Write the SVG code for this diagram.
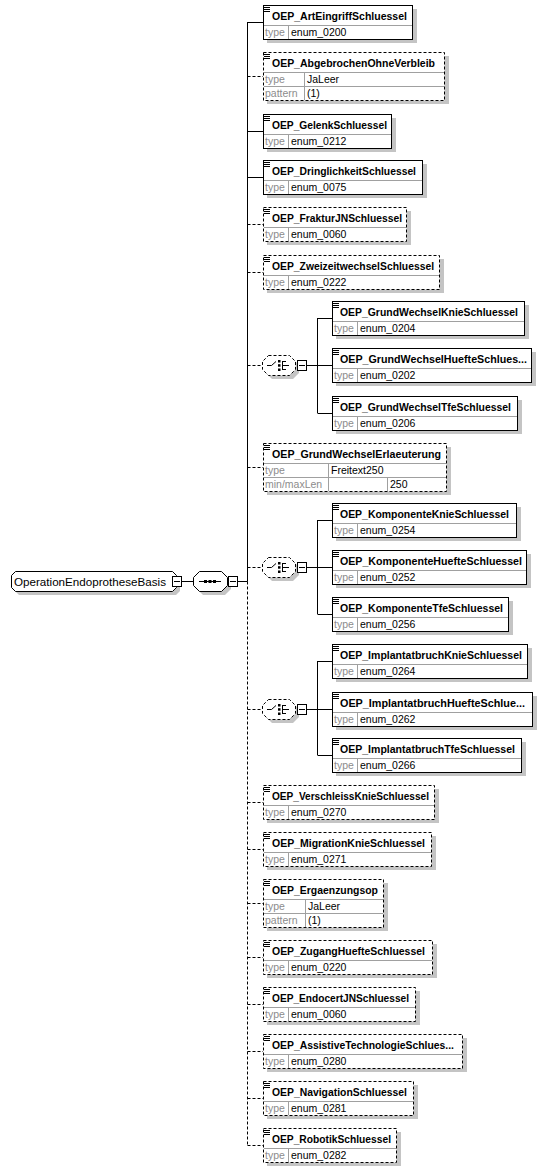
<svg xmlns="http://www.w3.org/2000/svg" width="547" height="1172" viewBox="0 0 547 1172">
<style>
.box{fill:#fff;stroke:#000;stroke-width:1}
.opt{stroke-dasharray:3,2}
.sh{fill:#c4c4c4}
.sep{stroke:#a0a0a0;stroke-width:1;fill:none}
.t{font-family:"Liberation Sans",Arial,sans-serif;font-weight:bold;font-size:10.5px;fill:#000}
.l{font-family:"Liberation Sans",Arial,sans-serif;font-size:10.5px;fill:#8c8c8c}
.v{font-family:"Liberation Sans",Arial,sans-serif;font-size:10.5px;fill:#000}
.r{font-family:"Liberation Sans",Arial,sans-serif;font-size:11.5px;fill:#000}
.ico{stroke:#000;stroke-width:1;fill:none}
.c{stroke:#000;stroke-width:1;fill:none}
.cd{stroke-dasharray:3,2}
.dot{fill:#000}
</style>
<rect width="547" height="1172" fill="#fff"/>

<g id="connectors">
<path class="c" d="M182 581.5H193M238 581.5H247.5M247.5 22V581.5"/>
<path class="c cd" d="M247.5 581.5V1145.5"/>
<path class="c" d="M247.5 22.5H263M247.5 131.5H263M247.5 177.5H263"/>
<path class="c cd" d="M247.5 76.5H263M247.5 224.5H263M247.5 272.5H263M247.5 365.5H262M247.5 467.5H263M247.5 567.5H262M247.5 709.5H262M247.5 802.5H263M247.5 849.5H263M247.5 903.5H263M247.5 957.5H263M247.5 1004.5H263M247.5 1051.5H263M247.5 1098.5H263M247.5 1145.5H263"/>
<path class="c" d="M307 365.5H317.5M317.5 318V413M317.5 318.5H332M317.5 365.5H332M317.5 413.5H332"/>
<path class="c" d="M307 567.5H317.5M317.5 520V614M317.5 520.5H332M317.5 567.5H332M317.5 614.5H332"/>
<path class="c" d="M307 709.5H317.5M317.5 661V755M317.5 661.5H332M317.5 709.5H332M317.5 755.5H332"/>
</g>

<g id="root">
<path class="sh" d="M19 575H176L180 579V591L176 595H19L15 591V579Z"/>
<path class="box" d="M15.5 571.5H172.5L176.5 575.5V587.5L172.5 591.5H15.5L11.5 587.5V575.5Z"/>
<text class="r" x="14" y="585.5" textLength="152" lengthAdjust="spacingAndGlyphs">OperationEndoprotheseBasis</text>
<rect class="box" x="172.5" y="576.5" width="9" height="10"/>
<path class="c" d="M174 581.5H180"/>
</g>

<g id="sequence">
<path class="sh" d="M203 575H225L231 581V589L225 595H203L197 589V581Z"/>
<path class="box" d="M199.5 571.5H221.5L227.5 577.5V585.5L221.5 591.5H199.5L193.5 585.5V577.5Z"/>
<path class="c" d="M199 581.5H221"/>
<rect class="dot" x="204" y="580" width="3" height="3"/>
<rect class="dot" x="208.5" y="580" width="3" height="3"/>
<rect class="dot" x="213" y="580" width="3" height="3"/>
<rect class="box" x="228.5" y="576.5" width="9" height="10"/>
<path class="c" d="M230 581.5H236"/>
</g>

<g id="n1">
<rect class="sh" x="267" y="9" width="150" height="34"/>
<rect class="box" x="263.5" y="5.5" width="149" height="34"/>
<path class="sep" d="M264 25.5H412M288.5 26V39"/>
<path class="ico" d="M264 7.5h6M264 9.5h6M264 11.5h6"/>
<text class="t" x="272" y="20" textLength="135" lengthAdjust="spacingAndGlyphs">OEP_ArtEingriffSchluessel</text>
<text class="l" x="265" y="36">type</text>
<text class="v" x="291" y="36">enum_0200</text>
</g>

<g id="n2">
<rect class="sh" x="267" y="56" width="182" height="48"/>
<rect class="box opt" x="263.5" y="52.5" width="181" height="48"/>
<path class="sep" d="M264 72.5H444M264 86.5H444M304.5 73V100"/>
<path class="ico" d="M264 54.5h6M264 56.5h6M264 58.5h6"/>
<text class="t" x="272" y="67" textLength="163" lengthAdjust="spacingAndGlyphs">OEP_AbgebrochenOhneVerbleib</text>
<text class="l" x="265" y="83">type</text>
<text class="v" x="307" y="83">JaLeer</text>
<text class="l" x="265" y="97">pattern</text>
<text class="v" x="307" y="97">(1)</text>
</g>

<g id="n3">
<rect class="sh" x="267" y="118" width="129" height="34"/>
<rect class="box" x="263.5" y="114.5" width="128" height="34"/>
<path class="sep" d="M264 134.5H391M288.5 135V148"/>
<path class="ico" d="M264 116.5h6M264 118.5h6M264 120.5h6"/>
<text class="t" x="272" y="129" textLength="115" lengthAdjust="spacingAndGlyphs">OEP_GelenkSchluessel</text>
<text class="l" x="265" y="145">type</text>
<text class="v" x="291" y="145">enum_0212</text>
</g>

<g id="n4">
<rect class="sh" x="267" y="164" width="160" height="34"/>
<rect class="box" x="263.5" y="160.5" width="159" height="34"/>
<path class="sep" d="M264 180.5H422M288.5 181V194"/>
<path class="ico" d="M264 162.5h6M264 164.5h6M264 166.5h6"/>
<text class="t" x="272" y="175" textLength="144" lengthAdjust="spacingAndGlyphs">OEP_DringlichkeitSchluessel</text>
<text class="l" x="265" y="191">type</text>
<text class="v" x="291" y="191">enum_0075</text>
</g>

<g id="n5">
<rect class="sh" x="267" y="211" width="144" height="34"/>
<rect class="box opt" x="263.5" y="207.5" width="143" height="34"/>
<path class="sep" d="M264 227.5H406M288.5 228V241"/>
<path class="ico" d="M264 209.5h6M264 211.5h6M264 213.5h6"/>
<text class="t" x="272" y="222" textLength="130" lengthAdjust="spacingAndGlyphs">OEP_FrakturJNSchluessel</text>
<text class="l" x="265" y="238">type</text>
<text class="v" x="291" y="238">enum_0060</text>
</g>

<g id="n6">
<rect class="sh" x="267" y="259" width="177" height="34"/>
<rect class="box opt" x="263.5" y="255.5" width="176" height="34"/>
<path class="sep" d="M264 275.5H439M288.5 276V289"/>
<path class="ico" d="M264 257.5h6M264 259.5h6M264 261.5h6"/>
<text class="t" x="272" y="270" textLength="162" lengthAdjust="spacingAndGlyphs">OEP_ZweizeitwechselSchluessel</text>
<text class="l" x="265" y="286">type</text>
<text class="v" x="291" y="286">enum_0222</text>
</g>

<g id="choice1">
<path class="sh" d="M272 359H293L299 365V373L293 379H272L266 373V365Z"/>
<path class="box opt" d="M268.5 355.5H289.5L295.5 361.5V369.5L289.5 375.5H268.5L262.5 369.5V361.5Z"/>
<path class="c" d="M267 365.5H271.5L276 361.5M282.5 361V370M282.5 361.5H286M282.5 369.5H286M282.5 365.5H289"/>
<rect class="dot" x="278" y="360" width="2.5" height="2.5"/>
<rect class="dot" x="278" y="364.2" width="2.5" height="2.5"/>
<rect class="dot" x="278" y="368.5" width="2.5" height="2.5"/>
<rect class="box" x="297.5" y="360.5" width="9" height="10"/>
<path class="c" d="M299 365.5H305"/>
</g>

<g id="n7">
<rect class="sh" x="336" y="305" width="193" height="34"/>
<rect class="box" x="332.5" y="301.5" width="192" height="34"/>
<path class="sep" d="M333 321.5H524M357.5 322V335"/>
<path class="ico" d="M333 303.5h6M333 305.5h6M333 307.5h6"/>
<text class="t" x="340" y="316" textLength="178" lengthAdjust="spacingAndGlyphs">OEP_GrundWechselKnieSchluessel</text>
<text class="l" x="334" y="332">type</text>
<text class="v" x="360" y="332">enum_0204</text>
</g>

<g id="n8">
<rect class="sh" x="336" y="352" width="200" height="34"/>
<rect class="box" x="332.5" y="348.5" width="199" height="34"/>
<path class="sep" d="M333 368.5H531M357.5 369V382"/>
<path class="ico" d="M333 350.5h6M333 352.5h6M333 354.5h6"/>
<text class="t" x="340" y="363" textLength="187" lengthAdjust="spacingAndGlyphs">OEP_GrundWechselHuefteSchlues...</text>
<text class="l" x="334" y="379">type</text>
<text class="v" x="360" y="379">enum_0202</text>
</g>

<g id="n9">
<rect class="sh" x="336" y="400" width="186" height="34"/>
<rect class="box" x="332.5" y="396.5" width="185" height="34"/>
<path class="sep" d="M333 416.5H517M357.5 417V430"/>
<path class="ico" d="M333 398.5h6M333 400.5h6M333 402.5h6"/>
<text class="t" x="340" y="411" textLength="171" lengthAdjust="spacingAndGlyphs">OEP_GrundWechselTfeSchluessel</text>
<text class="l" x="334" y="427">type</text>
<text class="v" x="360" y="427">enum_0206</text>
</g>

<g id="n10">
<rect class="sh" x="267" y="447" width="184" height="48"/>
<rect class="box opt" x="263.5" y="443.5" width="183" height="48"/>
<path class="sep" d="M264 463.5H446M264 477.5H446M328.5 464V491M387.5 478V491"/>
<path class="ico" d="M264 445.5h6M264 447.5h6M264 449.5h6"/>
<text class="t" x="272" y="458" textLength="169" lengthAdjust="spacingAndGlyphs">OEP_GrundWechselErlaeuterung</text>
<text class="l" x="265" y="474">type</text>
<text class="v" x="331" y="474">Freitext250</text>
<text class="l" x="265" y="488">min/maxLen</text>
<text class="v" x="390" y="488">250</text>
</g>

<g id="choice2">
<path class="sh" d="M272 561H293L299 567V575L293 581H272L266 575V567Z"/>
<path class="box opt" d="M268.5 557.5H289.5L295.5 563.5V571.5L289.5 577.5H268.5L262.5 571.5V563.5Z"/>
<path class="c" d="M267 567.5H271.5L276 563.5M282.5 563V572M282.5 563.5H286M282.5 571.5H286M282.5 567.5H289"/>
<rect class="dot" x="278" y="562" width="2.5" height="2.5"/>
<rect class="dot" x="278" y="566.2" width="2.5" height="2.5"/>
<rect class="dot" x="278" y="570.5" width="2.5" height="2.5"/>
<rect class="box" x="297.5" y="562.5" width="9" height="10"/>
<path class="c" d="M299 567.5H305"/>
</g>

<g id="n11">
<rect class="sh" x="336" y="507" width="185" height="34"/>
<rect class="box" x="332.5" y="503.5" width="184" height="34"/>
<path class="sep" d="M333 523.5H516M357.5 524V537"/>
<path class="ico" d="M333 505.5h6M333 507.5h6M333 509.5h6"/>
<text class="t" x="340" y="518" textLength="169" lengthAdjust="spacingAndGlyphs">OEP_KomponenteKnieSchluessel</text>
<text class="l" x="334" y="534">type</text>
<text class="v" x="360" y="534">enum_0254</text>
</g>

<g id="n12">
<rect class="sh" x="336" y="554" width="195" height="34"/>
<rect class="box" x="332.5" y="550.5" width="194" height="34"/>
<path class="sep" d="M333 570.5H526M357.5 571V584"/>
<path class="ico" d="M333 552.5h6M333 554.5h6M333 556.5h6"/>
<text class="t" x="340" y="565" textLength="182" lengthAdjust="spacingAndGlyphs">OEP_KomponenteHuefteSchluessel</text>
<text class="l" x="334" y="581">type</text>
<text class="v" x="360" y="581">enum_0252</text>
</g>

<g id="n13">
<rect class="sh" x="336" y="601" width="177" height="34"/>
<rect class="box" x="332.5" y="597.5" width="176" height="34"/>
<path class="sep" d="M333 617.5H508M357.5 618V631"/>
<path class="ico" d="M333 599.5h6M333 601.5h6M333 603.5h6"/>
<text class="t" x="340" y="612" textLength="163" lengthAdjust="spacingAndGlyphs">OEP_KomponenteTfeSchluessel</text>
<text class="l" x="334" y="628">type</text>
<text class="v" x="360" y="628">enum_0256</text>
</g>

<g id="choice3">
<path class="sh" d="M272 703H293L299 709V717L293 723H272L266 717V709Z"/>
<path class="box opt" d="M268.5 699.5H289.5L295.5 705.5V713.5L289.5 719.5H268.5L262.5 713.5V705.5Z"/>
<path class="c" d="M267 709.5H271.5L276 705.5M282.5 705V714M282.5 705.5H286M282.5 713.5H286M282.5 709.5H289"/>
<rect class="dot" x="278" y="704" width="2.5" height="2.5"/>
<rect class="dot" x="278" y="708.2" width="2.5" height="2.5"/>
<rect class="dot" x="278" y="712.5" width="2.5" height="2.5"/>
<rect class="box" x="297.5" y="704.5" width="9" height="10"/>
<path class="c" d="M299 709.5H305"/>
</g>

<g id="n14">
<rect class="sh" x="336" y="648" width="196" height="34"/>
<rect class="box" x="332.5" y="644.5" width="195" height="34"/>
<path class="sep" d="M333 664.5H527M357.5 665V678"/>
<path class="ico" d="M333 646.5h6M333 648.5h6M333 650.5h6"/>
<text class="t" x="340" y="659" textLength="182" lengthAdjust="spacingAndGlyphs">OEP_ImplantatbruchKnieSchluessel</text>
<text class="l" x="334" y="675">type</text>
<text class="v" x="360" y="675">enum_0264</text>
</g>

<g id="n15">
<rect class="sh" x="336" y="696" width="201" height="34"/>
<rect class="box" x="332.5" y="692.5" width="200" height="34"/>
<path class="sep" d="M333 712.5H532M357.5 713V726"/>
<path class="ico" d="M333 694.5h6M333 696.5h6M333 698.5h6"/>
<text class="t" x="340" y="707" textLength="185" lengthAdjust="spacingAndGlyphs">OEP_ImplantatbruchHuefteSchlue...</text>
<text class="l" x="334" y="723">type</text>
<text class="v" x="360" y="723">enum_0262</text>
</g>

<g id="n16">
<rect class="sh" x="336" y="742" width="190" height="34"/>
<rect class="box" x="332.5" y="738.5" width="189" height="34"/>
<path class="sep" d="M333 758.5H521M357.5 759V772"/>
<path class="ico" d="M333 740.5h6M333 742.5h6M333 744.5h6"/>
<text class="t" x="340" y="753" textLength="175" lengthAdjust="spacingAndGlyphs">OEP_ImplantatbruchTfeSchluessel</text>
<text class="l" x="334" y="769">type</text>
<text class="v" x="360" y="769">enum_0266</text>
</g>

<g id="n17">
<rect class="sh" x="267" y="789" width="172" height="34"/>
<rect class="box opt" x="263.5" y="785.5" width="171" height="34"/>
<path class="sep" d="M264 805.5H434M288.5 806V819"/>
<path class="ico" d="M264 787.5h6M264 789.5h6M264 791.5h6"/>
<text class="t" x="272" y="800" textLength="157" lengthAdjust="spacingAndGlyphs">OEP_VerschleissKnieSchluessel</text>
<text class="l" x="265" y="816">type</text>
<text class="v" x="291" y="816">enum_0270</text>
</g>

<g id="n18">
<rect class="sh" x="267" y="836" width="169" height="34"/>
<rect class="box opt" x="263.5" y="832.5" width="168" height="34"/>
<path class="sep" d="M264 852.5H431M288.5 853V866"/>
<path class="ico" d="M264 834.5h6M264 836.5h6M264 838.5h6"/>
<text class="t" x="272" y="847" textLength="153" lengthAdjust="spacingAndGlyphs">OEP_MigrationKnieSchluessel</text>
<text class="l" x="265" y="863">type</text>
<text class="v" x="291" y="863">enum_0271</text>
</g>

<g id="n19">
<rect class="sh" x="267" y="883" width="121" height="48"/>
<rect class="box opt" x="263.5" y="879.5" width="120" height="48"/>
<path class="sep" d="M264 899.5H383M264 913.5H383M305.5 900V927"/>
<path class="ico" d="M264 881.5h6M264 883.5h6M264 885.5h6"/>
<text class="t" x="272" y="894" textLength="106" lengthAdjust="spacingAndGlyphs">OEP_Ergaenzungsop</text>
<text class="l" x="265" y="910">type</text>
<text class="v" x="308" y="910">JaLeer</text>
<text class="l" x="265" y="924">pattern</text>
<text class="v" x="308" y="924">(1)</text>
</g>

<g id="n20">
<rect class="sh" x="267" y="944" width="170" height="34"/>
<rect class="box opt" x="263.5" y="940.5" width="169" height="34"/>
<path class="sep" d="M264 960.5H432M288.5 961V974"/>
<path class="ico" d="M264 942.5h6M264 944.5h6M264 946.5h6"/>
<text class="t" x="272" y="955" textLength="153" lengthAdjust="spacingAndGlyphs">OEP_ZugangHuefteSchluessel</text>
<text class="l" x="265" y="971">type</text>
<text class="v" x="291" y="971">enum_0220</text>
</g>

<g id="n21">
<rect class="sh" x="267" y="991" width="153" height="34"/>
<rect class="box opt" x="263.5" y="987.5" width="152" height="34"/>
<path class="sep" d="M264 1007.5H415M288.5 1008V1021"/>
<path class="ico" d="M264 989.5h6M264 991.5h6M264 993.5h6"/>
<text class="t" x="272" y="1002" textLength="137" lengthAdjust="spacingAndGlyphs">OEP_EndocertJNSchluessel</text>
<text class="l" x="265" y="1018">type</text>
<text class="v" x="291" y="1018">enum_0060</text>
</g>

<g id="n22">
<rect class="sh" x="267" y="1038" width="200" height="34"/>
<rect class="box opt" x="263.5" y="1034.5" width="199" height="34"/>
<path class="sep" d="M264 1054.5H462M288.5 1055V1068"/>
<path class="ico" d="M264 1036.5h6M264 1038.5h6M264 1040.5h6"/>
<text class="t" x="272" y="1049" textLength="182" lengthAdjust="spacingAndGlyphs">OEP_AssistiveTechnologieSchlues...</text>
<text class="l" x="265" y="1065">type</text>
<text class="v" x="291" y="1065">enum_0280</text>
</g>

<g id="n23">
<rect class="sh" x="267" y="1085" width="151" height="34"/>
<rect class="box opt" x="263.5" y="1081.5" width="150" height="34"/>
<path class="sep" d="M264 1101.5H413M288.5 1102V1115"/>
<path class="ico" d="M264 1083.5h6M264 1085.5h6M264 1087.5h6"/>
<text class="t" x="272" y="1096" textLength="135" lengthAdjust="spacingAndGlyphs">OEP_NavigationSchluessel</text>
<text class="l" x="265" y="1112">type</text>
<text class="v" x="291" y="1112">enum_0281</text>
</g>

<g id="n24">
<rect class="sh" x="267" y="1132" width="134" height="34"/>
<rect class="box opt" x="263.5" y="1128.5" width="133" height="34"/>
<path class="sep" d="M264 1148.5H396M288.5 1149V1162"/>
<path class="ico" d="M264 1130.5h6M264 1132.5h6M264 1134.5h6"/>
<text class="t" x="272" y="1143" textLength="119" lengthAdjust="spacingAndGlyphs">OEP_RobotikSchluessel</text>
<text class="l" x="265" y="1159">type</text>
<text class="v" x="291" y="1159">enum_0282</text>
</g>
</svg>
